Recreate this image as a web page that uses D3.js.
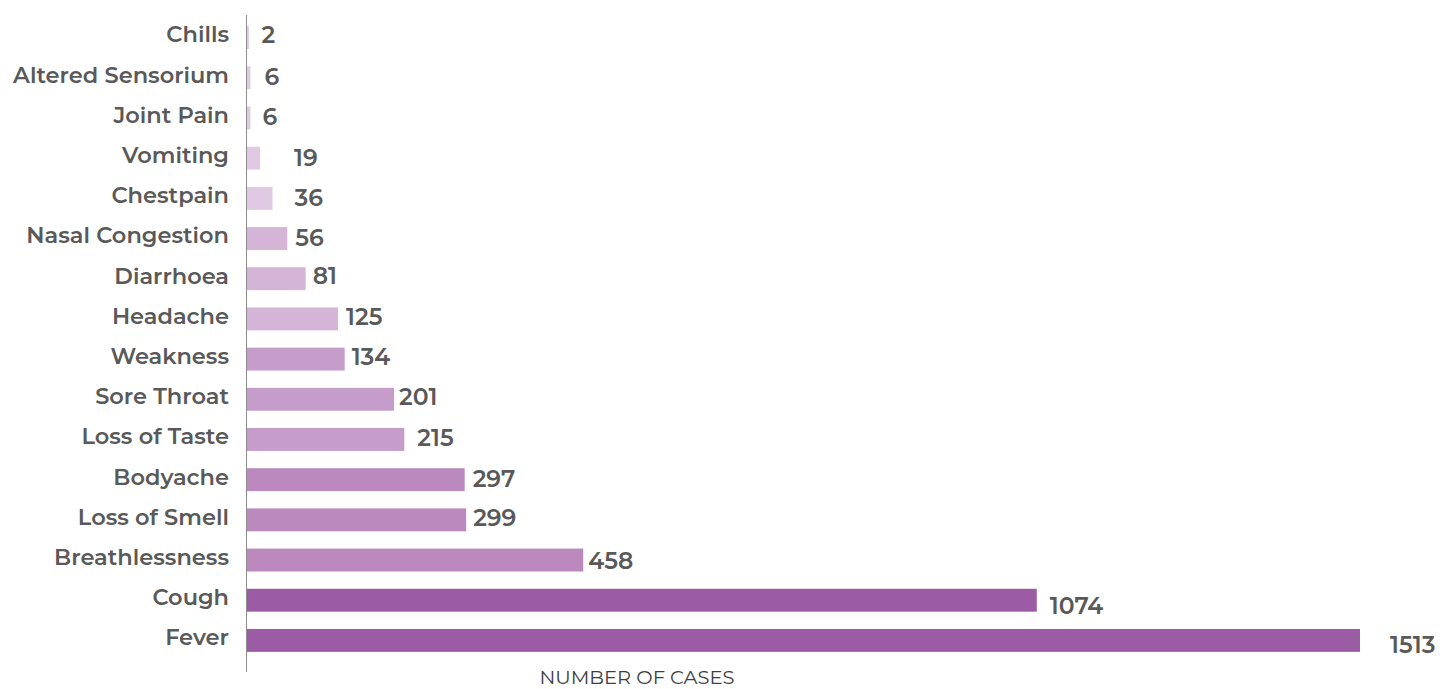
<!DOCTYPE html>
<html><head><meta charset="utf-8">
<script src="https://cdn.jsdelivr.net/npm/d3@7"></script>
<style>
html,body{margin:0;padding:0;background:#fff;}
svg{display:block;}
</style></head>
<body>
<svg id="chart" width="1440" height="689"></svg>
<script>
const categories = ["Chills","Altered Sensorium","Joint Pain","Vomiting","Chestpain","Nasal Congestion","Diarrhoea","Headache","Weakness","Sore Throat","Loss of Taste","Bodyache","Loss of Smell","Breathlessness","Cough","Fever"];
const cases = [2,6,6,19,36,56,81,125,134,201,215,297,299,458,1074,1513];
const barColors = ["#e0c9e3","#e0c9e3","#e0c9e3","#e0c9e3","#e0c9e3","#d5b5d7","#d5b5d7","#d5b5d7","#c69cca","#c69cca","#c69cca","#bb89be","#bb89be","#bb89be","#9c5ba5","#9c5ba5"];
// manual label nudges (dx, dy) as placed in the original
const labelDx = [14,14,12,34,22,8,7,8,7,5,13,8,7,5,13,30];
const labelDy = [-3,-1,-1,0,-1,-1,-3,-2,-2,-3,-2,-1,-2,1,6,4];
const axisTitle = "NUMBER OF CASES";

const svg = d3.select("#chart");
const font = "Montserrat, 'Open Sans', sans-serif";
const x = d3.scaleLinear().domain([0, 1513]).range([246, 1360]);
const y = d3.scaleBand().domain(categories).range([17.5, 660.5]).paddingInner(0.43).paddingOuter(0.215);

svg.append("g").selectAll("rect").data(categories).join("rect")
  .attr("x", x(0))
  .attr("y", d => y(d))
  .attr("width", (d,i) => Math.max(x(cases[i]) - x(0), 3))
  .attr("height", y.bandwidth())
  .attr("fill", (d,i) => barColors[i]);

svg.append("line").attr("x1", 246.5).attr("x2", 246.5).attr("y1", 15).attr("y2", 672)
  .attr("stroke", "#8c8c8c").attr("stroke-width", 1);

svg.append("g").selectAll("text").data(categories).join("text")
  .attr("x", 229)
  .attr("y", d => y(d) + y.bandwidth()/2 - 3)
  .attr("dy", "0.35em")
  .attr("text-anchor", "end")
  .attr("font-family", font).attr("font-weight", 600).attr("font-size", 22.5)
  .attr("fill", "#595959")
  .text(d => d);

svg.append("g").selectAll("text").data(categories).join("text")
  .attr("x", (d,i) => x(cases[i]) + labelDx[i])
  .attr("y", (d,i) => y(d) + y.bandwidth()/2 + labelDy[i])
  .attr("dy", "0.35em")
  .attr("font-family", font).attr("font-weight", 600).attr("font-size", 23.5)
  .attr("fill", "#595959")
  .text((d,i) => cases[i]);

svg.append("text").attr("x", 637).attr("y", 684)
  .attr("text-anchor", "middle")
  .attr("font-family", font).attr("font-size", 19.5)
  .attr("fill", "#404040")
  .text(axisTitle);
</script>
</body></html>
